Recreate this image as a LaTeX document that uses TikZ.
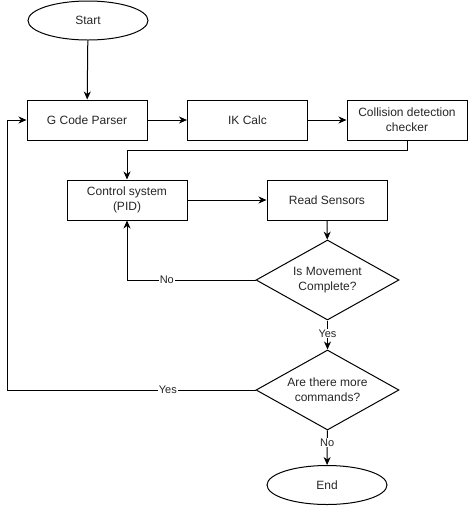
\documentclass[tikz,border=0pt]{standalone}
\usepackage{fontspec}
\setmainfont{Liberation Sans}
\usetikzlibrary{shapes.geometric,arrows.meta}
\begin{document}
\begin{tikzpicture}[x=1pt,y=-1pt,
  every node/.style={font=\fontsize{12}{15}\selectfont, text=black!85},
  box/.style={draw, line width=1pt, minimum width=120pt, minimum height=40pt, inner sep=0pt, align=center},
  term/.style={draw, line width=1pt, ellipse, minimum width=120pt, minimum height=39pt, inner sep=0pt},
  dec/.style={draw, line width=1pt, diamond, aspect=1.8, minimum width=143pt, minimum height=80pt, inner sep=0pt, align=center},
  arr/.style={line width=1pt, -{Stealth[length=8pt,width=7pt,inset=2.5pt]}},
  lab/.style={fill=white, inner sep=1pt, font=\fontsize{11}{13}\selectfont}]
\useasboundingbox (0,0) rectangle (468,507);
\node[term] (start) at (88,20.5) {Start};
\node[box] (gcp) at (87,120) {G Code Parser};
\node[box] (ik) at (247.5,120) {IK Calc};
\node[box] (col) at (407,120) {Collision detection\\checker};
\node[box] (ctrl) at (127,200) {Control system\\(PID)};
\node[box] (rs) at (327,200) {Read Sensors};
\node[dec] (d1) at (327.5,280) {Is Movement\\Complete?};
\node[dec] (d2) at (327.5,390) {Are there more\\commands?};
\node[term] (end) at (327,485) {End};
\coordinate (lp) at (7,390);
\draw[arr] (start) -- (gcp);
\draw[arr] (gcp) -- (ik);
\draw[arr] (ik) -- (col);
\draw[arr] (col.south) -- ++(0,10) -| (ctrl.north);
\draw[arr] (ctrl) -- (rs);
\draw[arr] (rs) -- (d1);
\draw[arr] (d1.west) -| node[lab, pos=0.345] {No} (ctrl.south);
\draw[arr] (d1) -- node[lab, pos=0.45] {Yes} (d2);
\draw[arr] (d2.west) -- node[lab, pos=0.353] {Yes} (lp) |- (gcp.west);
\draw[arr] (d2) -- node[lab, pos=0.35] {No} (end);
\end{tikzpicture}
\end{document}
